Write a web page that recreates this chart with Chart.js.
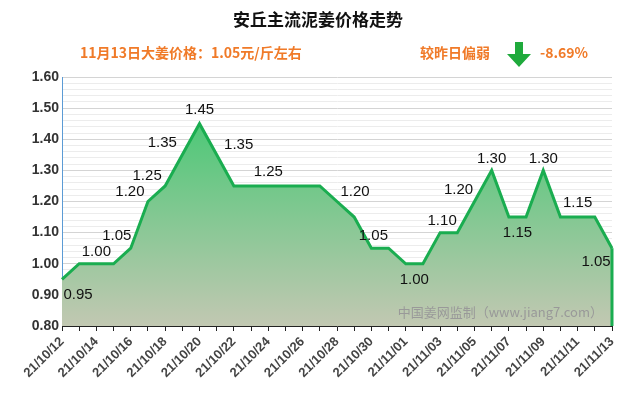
<!DOCTYPE html><html><head><meta charset="utf-8">
<script src="https://cdn.jsdelivr.net/npm/chart.js@4"></script>
<style>body{margin:0;background:#fff}#w{width:640px;height:410px}</style></head><body><div id="w"><canvas id="c"></canvas></div>
<script>
const dates=["21/10/12","21/10/13","21/10/14","21/10/15","21/10/16","21/10/17","21/10/18","21/10/19","21/10/20","21/10/21","21/10/22","21/10/23","21/10/24","21/10/25","21/10/26","21/10/27","21/10/28","21/10/29","21/10/30","21/10/31","21/11/01","21/11/02","21/11/03","21/11/04","21/11/05","21/11/06","21/11/07","21/11/08","21/11/09","21/11/10","21/11/11","21/11/12","21/11/13"];
const prices=[0.95,1.00,1.00,1.00,1.05,1.20,1.25,1.35,1.45,1.35,1.25,1.25,1.25,1.25,1.25,1.25,1.20,1.15,1.05,1.05,1.00,1.00,1.10,1.10,1.20,1.30,1.15,1.15,1.30,1.15,1.15,1.15,1.05];
// which points carry a value label, and where: [index, dx, dy]
const shownLabels=[[0,16,16],[2,0,-12],[4,-14,-12],[5,-18,-10],[6,-18,-10],[7,-20,-12],[8,0,-14],[9,22,-10],[12,0,-14],[16,18,-10],[18,2,-12],[20.5,0,16],[22,2,-12],[24,-16,-12],[25,0,-12],[26.5,0,16],[28,0,-12],[30,0,-14],[32,-16,14]];
const subtitle="11月13日大姜价格：1.05元/斤左右";
const trendText="较昨日偏弱", changeText="-8.69%";
const plug={id:'deco',afterDatasetsDraw(ch){const c=ch.ctx,x=ch.scales.x,y=ch.scales.y;c.save();
const a=ch.chartArea;c.strokeStyle='#1aad50';c.lineWidth=3;c.beginPath();c.moveTo(a.right,y.getPixelForValue(prices[prices.length-1]));c.lineTo(a.right,a.bottom);c.stroke();
c.font='15px "Liberation Sans",sans-serif';c.fillStyle='#111';c.textAlign='center';c.textBaseline='middle';
for(const [i,dx,dy] of shownLabels){const v=Number.isInteger(i)?prices[i]:prices[Math.floor(i)];c.fillText(v.toFixed(2),x.getPixelForValue(i)+dx,y.getPixelForValue(v)+dy);}
c.font='13px "Noto Sans CJK SC"';c.fillStyle='#999';c.textAlign='right';c.fillText('中国姜网监制（www.jiang7.com）',603,312);
c.restore();},
beforeDraw(ch){const c=ch.ctx;c.save();c.fillStyle='#fff';c.fillRect(0,0,640,410);
c.textBaseline='middle';c.textAlign='center';c.fillStyle='#111';c.font='bold 17px "Noto Sans CJK SC"';c.fillText('安丘主流泥姜价格走势',318,20);
c.fillStyle='#f07a28';c.font='bold 14px "Noto Sans CJK SC"';c.textAlign='left';c.fillText(subtitle,80,53);c.fillText(trendText,420,53);c.fillText(changeText,540,53);
c.fillStyle='#1faa3c';c.beginPath();c.moveTo(515,42);c.lineTo(523,42);c.lineTo(523,54);c.lineTo(531,54);c.lineTo(519,67);c.lineTo(507,54);c.lineTo(515,54);c.closePath();c.fill();
c.restore();}};
new Chart(document.getElementById('c'),{type:'line',plugins:[plug],
data:{labels:dates,datasets:[{data:prices,borderColor:'#1aad50',borderWidth:3,pointRadius:0,tension:0,fill:'start',
backgroundColor:(ctx)=>{const a=ctx.chart.chartArea;if(!a)return '#7c9';const g=ctx.chart.ctx.createLinearGradient(0,a.top,0,a.bottom);g.addColorStop(0,'#33c86a');g.addColorStop(1,'#c2c8b2');return g;}}]},
options:{responsive:true,maintainAspectRatio:false,animation:false,layout:{padding:{top:77,right:28,left:0,bottom:0}},
plugins:{legend:{display:false},tooltip:{enabled:false}},
scales:{y:{min:0.8,max:1.6,afterFit(s){s.width=62;},border:{color:'#5b9bd5'},
ticks:{stepSize:0.02,autoSkip:false,color:'#333',font:{size:14,weight:'bold',family:'"Liberation Sans"'},callback:v=>{const r=Math.round(v*100);return r%10===0?(r/100).toFixed(2):'';}},
grid:{color:(c)=>{const r=Math.round(c.tick.value*100);return r%10===0?'#d4d4d4':'#ececec';},drawTicks:false}},
x:{afterFit(s){s.height=84;},offset:false,border:{color:'#222'},grid:{display:true,drawOnChartArea:false,drawTicks:true,tickLength:5,tickColor:'#222'},
ticks:{autoSkip:false,maxRotation:45,minRotation:45,color:'#444',font:{size:13,weight:'bold',family:'"Liberation Sans"'},callback:(v,i)=>i%2===0?dates[i]:''}}}}});
</script></body></html>
